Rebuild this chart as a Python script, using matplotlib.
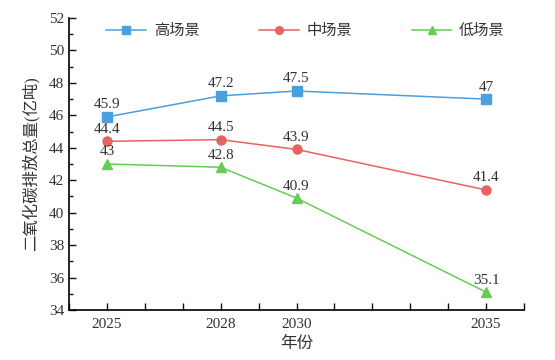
import matplotlib.pyplot as plt
from matplotlib.ticker import MultipleLocator

plt.rcParams['font.family'] = ['Liberation Serif', 'Noto Sans CJK SC']

years = [2025, 2028, 2030, 2035]
high = [45.9, 47.2, 47.5, 47.0]
mid = [44.4, 44.5, 43.9, 41.4]
low = [43.0, 42.8, 40.9, 35.1]
names = ['高场景', '中场景', '低场景']
labels_high = ['45.9', '47.2', '47.5', '47']
labels_mid = ['44.4', '44.5', '43.9', '41.4']
labels_low = ['43', '42.8', '40.9', '35.1']

fig = plt.figure(figsize=(5.55, 3.6), dpi=100)
ax = fig.add_axes([69 / 555, 50 / 360, 455 / 555, 292 / 360])

series = [
    (high, labels_high, '#4a9fdf', 's'),
    (mid, labels_mid, '#e86262', 'o'),
    (low, labels_low, '#66cc55', '^'),
]
for (vals, labs, color, marker), name in zip(series, names):
    ax.plot(years, vals, color=color, marker=marker, markersize=6.5, linewidth=1.1, label=name)
    for x, y, t in zip(years, vals, labs):
        ax.annotate(t, (x, y), xytext=(0, 4), textcoords='offset points',
                    ha='center', va='bottom', fontsize=11, color='#333333')

ax.set_xlim(2024, 2036)
ax.set_ylim(34, 52)
ax.set_xticks(years)
ax.xaxis.set_minor_locator(MultipleLocator(1))
ax.yaxis.set_major_locator(MultipleLocator(2))
ax.yaxis.set_minor_locator(MultipleLocator(1))
ax.tick_params(which='both', direction='in', labelsize=11, colors='#111111', labelcolor='#333333')
ax.tick_params(which='major', length=5, width=1)
ax.tick_params(which='minor', length=3, width=1)
ax.tick_params(axis='x', which='both', length=5, pad=6)
ax.spines['top'].set_visible(False)
ax.spines['right'].set_visible(False)
ax.spines['left'].set_linewidth(1.2)
ax.spines['bottom'].set_linewidth(1.2)

ax.set_xlabel('年份', fontsize=12, color='#333333', labelpad=3)
ax.set_ylabel('二氧化碳排放总量(亿吨)', fontsize=11.8, color='#333333', labelpad=7)

leg = ax.legend(loc='center left', ncol=3, frameon=False, fontsize=11, bbox_to_anchor=(0.082, 0.955),
                borderaxespad=0, borderpad=0, columnspacing=3.9, handlelength=2.6, handletextpad=0.5,
                labelcolor='#333333', markerscale=0.85)

fig.savefig('out.png', dpi=100)
